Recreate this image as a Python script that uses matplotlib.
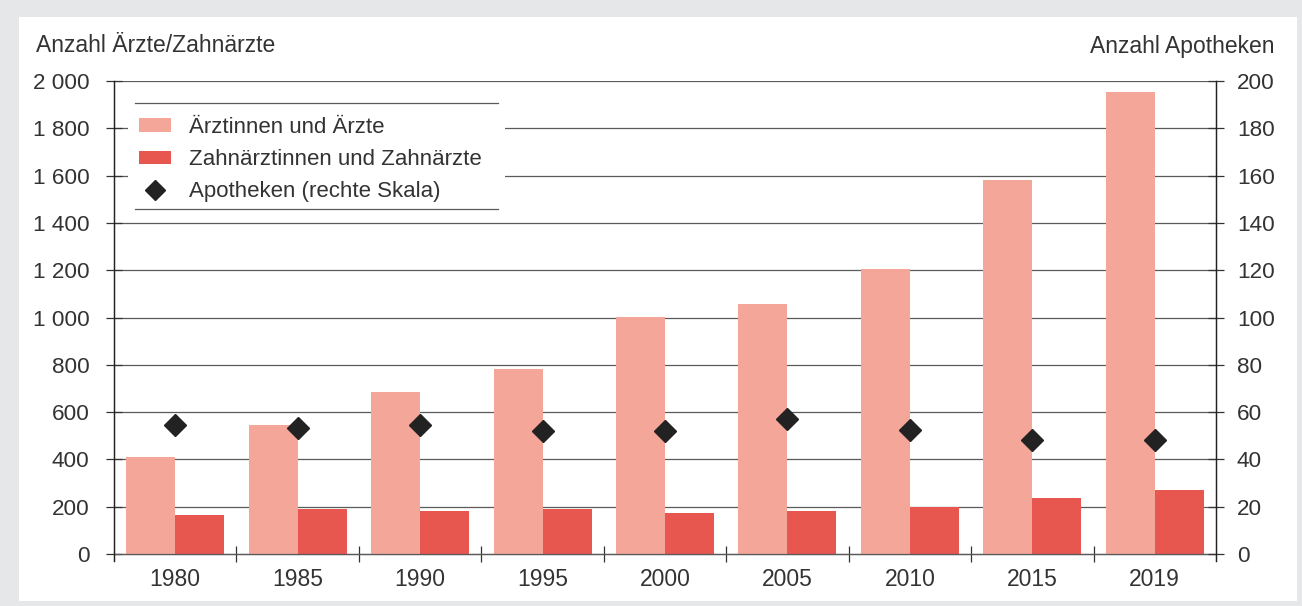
import matplotlib
matplotlib.use("Agg")
import matplotlib.pyplot as plt
import numpy as np
from matplotlib.patches import Rectangle, Patch
from matplotlib.lines import Line2D
from matplotlib.ticker import FuncFormatter, FixedLocator

plt.rcParams['font.family'] = ['Liberation Sans', 'DejaVu Sans']
plt.rcParams['text.color'] = '#333333'

years = ["1980", "1985", "1990", "1995", "2000", "2005", "2010", "2015", "2019"]
aerzte = [411, 545, 686, 782, 1002, 1057, 1205, 1581, 1953]
zahnaerzte = [165, 190, 182, 190, 173, 182, 200, 235, 270]
apotheken = [54.5, 53.3, 54.5, 51.8, 51.8, 57.0, 52.5, 48.2, 48.2]

c_aerzte = '#F4A699'
c_zahn = '#E85650'
c_apo = '#222222'
grid_c = '#5a5a5a'
txt_c = '#333333'

W, H = 1302, 606
fig = plt.figure(figsize=(W / 100, H / 100), dpi=100)
fig.patch.set_facecolor('#E6E7E8')
fig.add_artist(Rectangle((19 / W, (H - 601) / H), (1297 - 19) / W, (601 - 17) / H,
                         transform=fig.transFigure, facecolor='white', edgecolor='none', zorder=-5))

ax_l, ax_r, ax_top, ax_bot = 114, 1216, 81, 561.1
ax = fig.add_axes([ax_l / W, (H - ax_bot) / H, (ax_r - ax_l) / W, (ax_bot - ax_top) / H])
ax.set_facecolor('none')

x = np.arange(len(years))
bw = 0.4
ax.bar(x - bw / 2, aerzte, bw, color=c_aerzte, zorder=2)
ax.bar(x + bw / 2, zahnaerzte, bw, color=c_zahn, zorder=2)

ax.set_xlim(-0.5, len(years) - 0.5)
ax.set_ylim(-30, 2000)
ax.set_yticks(np.arange(0, 2001, 200))
ax.yaxis.set_major_formatter(FuncFormatter(lambda v, p: f"{v:,.0f}".replace(",", " ")))
ax.grid(axis='y', color=grid_c, lw=0.9, zorder=1)
ax.set_axisbelow(True)

ax.set_xticks(x)
ax.set_xticklabels(years)
ax.xaxis.set_minor_locator(FixedLocator(x[:-1] + 0.5))
ax.tick_params(axis='x', which='major', length=0, pad=10, labelsize=16.5, labelcolor=txt_c)
ax.tick_params(axis='x', which='minor', length=11, direction='inout', color=txt_c, width=0.9)
ax.tick_params(axis='y', length=12, direction='inout', pad=11.5, labelsize=16.2,
               labelcolor=txt_c, color=txt_c, width=0.9)

ax.spines['top'].set_visible(False)
ax.spines['bottom'].set_position(('data', 0))
ax.spines['bottom'].set_color(grid_c)
ax.spines['bottom'].set_linewidth(0.9)
for s in ('left', 'right'):
    ax.spines[s].set_color('#222222')
    ax.spines[s].set_linewidth(0.9)

ax2 = ax.twinx()
ax2.set_ylim(-3, 200)
ax2.set_yticks(np.arange(0, 201, 20))
ax2.plot(x, apotheken, linestyle='none', marker='D', markersize=11, color=c_apo, zorder=3)
ax2.tick_params(axis='y', length=12, direction='inout', pad=9, labelsize=16.2,
                labelcolor=txt_c, color=txt_c, width=0.9)
for s in ('top', 'bottom'):
    ax2.spines[s].set_visible(False)
for s in ('left', 'right'):
    ax2.spines[s].set_color('#222222')
    ax2.spines[s].set_linewidth(0.9)

# legend box: white background with top and bottom rules
ah = ax_bot - ax_top
aw = ax_r - ax_l
def fx(px):
    return (px - ax_l) / aw
def fy(py):
    return (ax_bot - py) / ah
ax2.add_patch(Rectangle((fx(128), fy(214)), fx(505) - fx(128), fy(96) - fy(214),
                        transform=ax2.transAxes, facecolor='white', edgecolor='none', zorder=4))
for py in (103, 209):
    ax2.add_line(Line2D([fx(135), fx(498)], [fy(py), fy(py)], transform=ax2.transAxes,
                        color=grid_c, lw=0.9, zorder=5))

handles = [Patch(facecolor=c_aerzte, edgecolor='none'),
           Patch(facecolor=c_zahn, edgecolor='none'),
           Line2D([], [], linestyle='none', marker='D', markersize=10, color=c_apo)]
labels = ["Ärztinnen und Ärzte", "Zahnärztinnen und Zahnärzte", "Apotheken (rechte Skala)"]
leg = ax2.legend(handles, labels, loc='upper left', bbox_to_anchor=(fx(139), fy(117)),
                 frameon=False, fontsize=16, handlelength=1.45, handleheight=0.55,
                 handletextpad=0.8, labelspacing=0.5, borderpad=0, borderaxespad=0)
leg.set_zorder(6)
for t in leg.get_texts():
    t.set_color(txt_c)

fig.text(36 / W, (H - 46) / H, "Anzahl Ärzte/Zahnärzte", fontsize=16.5, va='center', ha='left', color=txt_c)
fig.text(1274 / W, (H - 46) / H, "Anzahl Apotheken", fontsize=16.5, va='center', ha='right', color=txt_c)

fig.savefig("out.png", dpi=100, facecolor=fig.get_facecolor())
